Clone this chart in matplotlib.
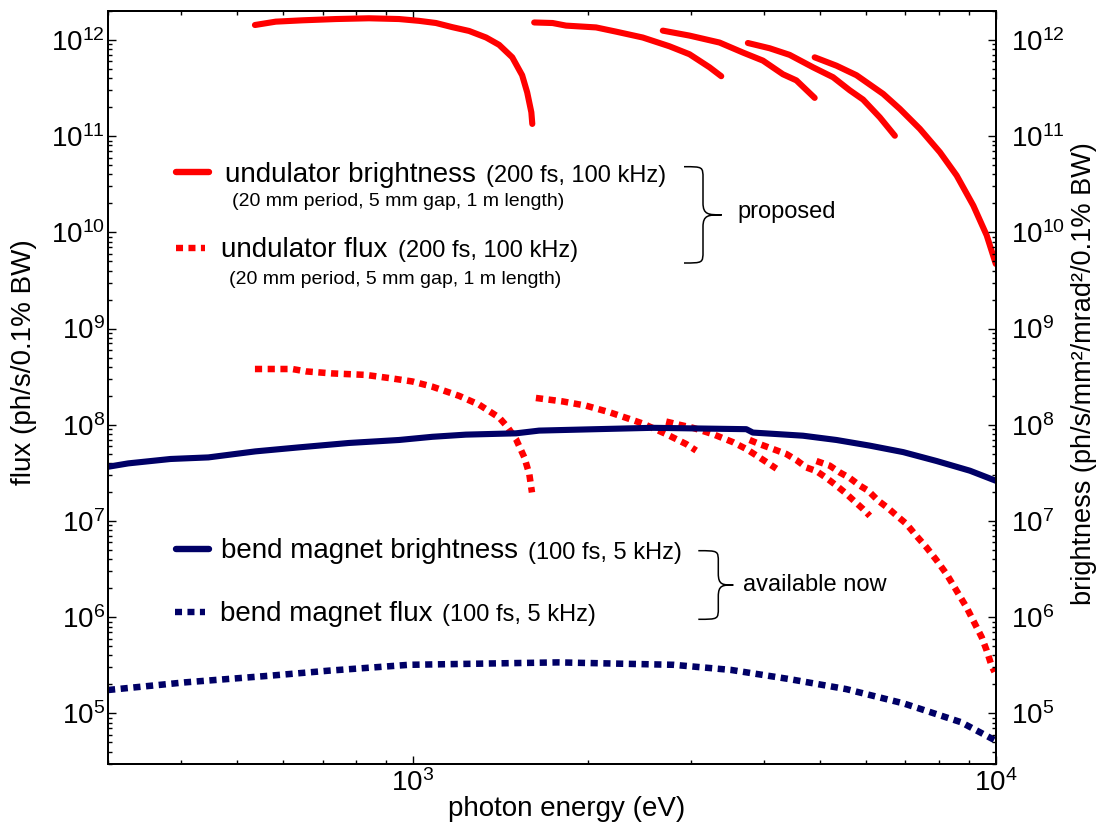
import matplotlib

matplotlib.use("Agg")
import matplotlib.pyplot as plt
from matplotlib.patches import PathPatch
from matplotlib.path import Path
from matplotlib.ticker import FixedLocator, LogLocator, NullFormatter

RED = "#ff0000"
NAVY = "#000066"

# photon energy (eV) / value pairs
# undulator brightness, harmonics 1..5
ub1_x = [536, 582, 646, 738, 841, 947, 1025, 1096, 1168, 1249, 1336, 1406, 1481, 1540, 1571, 1597, 1603]
ub1_y = [1.43e12, 1.55e12, 1.60e12, 1.65e12, 1.68e12, 1.65e12, 1.58e12, 1.50e12, 1.36e12, 1.24e12,
         1.06e12, 8.9e11, 6.6e11, 4.3e11, 2.85e11, 1.77e11, 1.34e11]
ub2_x = [1615, 1737, 1831, 2062, 2232, 2480, 2755, 2983, 3228, 3381]
ub2_y = [1.52e12, 1.50e12, 1.41e12, 1.35e12, 1.22e12, 1.06e12, 8.6e11, 7.1e11, 5.2e11, 4.2e11]
ub3_x = [2684, 2983, 3358, 3683, 3986, 4314, 4549, 4890]
ub3_y = [1.25e12, 1.11e12, 9.4e11, 7.4e11, 6.1e11, 4.4e11, 3.8e11, 2.5e11]
ub4_x = [3756, 4093, 4429, 4858, 5258, 5616, 5920, 6324, 6712]
ub4_y = [9.3e11, 8.2e11, 7.0e11, 5.2e11, 4.1e11, 3.0e11, 2.4e11, 1.57e11, 1.01e11]
ub5_x = [4890, 5330, 5768, 6409, 6846, 7410, 8021, 8567, 9150, 9647, 10000]
ub5_y = [6.6e11, 5.4e11, 4.3e11, 2.75e11, 1.92e11, 1.19e11, 6.8e10, 3.9e10, 1.9e10, 9.3e9, 4.7e9]

# undulator flux, harmonics 1..5
uf1_x = [536, 621, 655, 727, 830, 922, 998, 1080, 1200, 1299, 1406, 1453, 1503, 1553, 1584, 1601]
uf1_y = [3.8e8, 3.8e8, 3.59e8, 3.42e8, 3.30e8, 3.03e8, 2.82e8, 2.49e8, 2.0e8, 1.62e8, 1.19e8,
         9.5e7, 7.1e7, 4.6e7, 3.08e7, 1.98e7]
uf2_x = [1626, 1806, 1982, 2174, 2353, 2480, 2720, 2830, 2944, 3062]
uf2_y = [1.9e8, 1.75e8, 1.58e8, 1.35e8, 1.15e8, 1.03e8, 8.0e7, 7.1e7, 6.3e7, 5.4e7]
uf3_x = [2720, 2867, 3022, 3270, 3540, 3733, 3884, 4041, 4204]
uf3_y = [1.08e8, 1.0e8, 9.3e7, 8.0e7, 6.6e7, 5.6e7, 4.8e7, 4.1e7, 3.5e7]
uf4_x = [3782, 3934, 4147, 4372, 4549, 4732, 4924, 5123, 5330, 5508, 5692, 5920, 6079]
uf4_y = [6.95e7, 6.3e7, 5.6e7, 4.97e7, 4.3e7, 3.6e7, 3.3e7, 2.8e7, 2.33e7, 1.98e7, 1.65e7, 1.33e7, 1.13e7]
uf5_x = [4924, 5189, 5398, 5616, 5845, 6038, 6282, 6535, 6756, 7029, 7265, 7609, 7916, 8235, 8567,
         8913, 9150, 9458, 9647, 9840, 9950]
uf5_y = [4.2e7, 3.76e7, 3.2e7, 2.8e7, 2.33e7, 2.07e7, 1.63e7, 1.36e7, 1.14e7, 9.3e6, 7.3e6, 5.3e6,
         3.9e6, 2.8e6, 1.88e6, 1.26e6, 9.2e5, 6.2e5, 4.5e5, 3.1e5, 2.7e5]

# bend magnet
bmb_x = [300, 325, 384, 446, 537, 637, 777, 947, 1080, 1233, 1503, 1647, 2062, 2579, 3733, 3831,
         4669, 5330, 6079, 6935, 7916, 9030, 10000]
bmb_y = [3.66e7, 3.97e7, 4.41e7, 4.58e7, 5.29e7, 5.82e7, 6.47e7, 6.95e7, 7.5e7, 7.9e7, 8.15e7,
         8.7e7, 9.0e7, 9.3e7, 9.0e7, 8.3e7, 7.7e7, 6.95e7, 6.07e7, 5.2e7, 4.2e7, 3.33e7, 2.62e7]
bmf_x = [300, 406, 571, 717, 985, 1777, 2800, 3515, 4410, 5535, 6948, 8717, 10000]
bmf_y = [1.75e5, 2.1e5, 2.47e5, 2.78e5, 3.2e5, 3.39e5, 3.2e5, 2.83e5, 2.28e5, 1.79e5, 1.27e5,
         8.1e4, 5.2e4]

XLIM = (300, 1e4)
YLIM = (3e4, 2e12)
XTICKS = [1e3, 1e4]

plt.rcParams["font.family"] = ["Liberation Sans", "DejaVu Sans"]

W, H = 1104, 833
L, R, T, B = 108, 995.8, 11, 763.7  # axes box in pixels
fig = plt.figure(figsize=(W / 100, H / 100), dpi=100)
ax = fig.add_axes([L / W, 1 - B / H, (R - L) / W, (B - T) / H])


def at(px, py):
    """pixel position in the reference -> axes fraction"""
    return (px - L) / (R - L), (B - py) / (B - T)


dots = (0, (1.1, 0.85))
solid_kw = dict(color=RED, lw=4.4, solid_capstyle="round", solid_joinstyle="round")
dot_kw = dict(color=RED, lw=4.7, ls=dots, dash_capstyle="butt")
for xs, ys in [(ub1_x, ub1_y), (ub2_x, ub2_y), (ub3_x, ub3_y), (ub4_x, ub4_y), (ub5_x, ub5_y)]:
    ax.plot(xs, ys, **solid_kw)
for xs, ys in [(uf1_x, uf1_y), (uf2_x, uf2_y), (uf3_x, uf3_y), (uf4_x, uf4_y), (uf5_x, uf5_y)]:
    ax.plot(xs, ys, **dot_kw)
ax.plot(bmb_x, bmb_y, color=NAVY, lw=4.4, solid_capstyle="round")
ax.plot(bmf_x, bmf_y, color=NAVY, lw=4.7, ls=dots, dash_capstyle="butt")

ax.set_xscale("log")
ax.set_yscale("log")
ax.set_xlim(*XLIM)
ax.set_ylim(*YLIM)
ax.xaxis.set_major_locator(FixedLocator(XTICKS))
ax.xaxis.set_minor_locator(LogLocator(base=10, subs=range(2, 10), numticks=20))
ax.xaxis.set_minor_formatter(NullFormatter())
ax2 = ax.twinx()
ax2.set_yscale("log")
ax2.set_ylim(*YLIM)

for a in (ax, ax2):
    a.yaxis.set_major_locator(LogLocator(base=10, numticks=20))
    a.yaxis.set_minor_locator(LogLocator(base=10, subs=range(2, 10), numticks=20))
    a.yaxis.set_minor_formatter(NullFormatter())
    for s in a.spines.values():
        s.set_linewidth(1.4)

ax.tick_params(which="both", direction="in", top=True, right=False, width=1)
ax.tick_params(which="major", length=5.5, labelsize=20)
ax.tick_params(which="minor", length=3)
ax.tick_params(axis="y", pad=2)
ax.tick_params(axis="x", pad=4)
ax2.tick_params(which="both", direction="in", width=1)
ax2.tick_params(which="major", length=5.5, labelsize=20, pad=11)
ax2.tick_params(which="minor", length=3)

# axis titles
ax.text(*at(24, 362), "flux (ph/s/0.1% BW)", transform=ax.transAxes, rotation=90,
        ha="center", va="center", fontsize=20)
ax.text(*at(1084, 374), "brightness (ph/s/mm²/mrad²/0.1% BW)", transform=ax.transAxes,
        rotation=90, ha="center", va="center", fontsize=19.5)
ax.text(*at(567, 808.5), "photon energy (eV)", transform=ax.transAxes,
        ha="center", va="center", fontsize=20)

# hand-made legend
keys = [
    (176, 209, 171.7, "-", RED),
    (175.7, 205, 248.3, dots, RED),
    (176, 209, 549, "-", NAVY),
    (175, 205, 612, dots, NAVY),
]
for x0, x1, y, ls, c in keys:
    (ax0, ay), (ax1, _) = at(x0, y), at(x1, y)
    ax.plot([ax0, ax1], [ay, ay], transform=ax.transAxes, color=c, lw=4.6, ls=ls,
            solid_capstyle="round", dash_capstyle="butt", clip_on=False)

labels = [
    (225, 181.7, "undulator brightness", 20),
    (486, 181.7, "(200 fs, 100 kHz)", 17),
    (232, 206, "(20 mm period, 5 mm gap, 1 m length)", 14),
    (221, 256.7, "undulator flux", 20),
    (397.5, 256.7, "(200 fs, 100 kHz)", 17),
    (229, 283.5, "(20 mm period, 5 mm gap, 1 m length)", 14),
    (221, 558.5, "bend magnet brightness", 20),
    (528.5, 558.5, "(100 fs, 5 kHz)", 17),
    (220, 621, "bend magnet flux", 20),
    (442, 621, "(100 fs, 5 kHz)", 17),
    (737, 218.3, "proposed", 17),
    (743, 590.7, "available now", 17),
]
for px, py, s, fs in labels:
    ax.text(*at(px, py), s, transform=ax.transAxes, ha="left", va="baseline", fontsize=fs)


def brace(x_end, x_mid, x_tip, y_top, y_bot):
    y_c = (y_top + y_bot) / 2
    r = min(12, (y_bot - y_top) / 6)
    pts = [
        (x_end, y_top), (x_mid, y_top), (x_mid, y_top), (x_mid, y_top + r),
        (x_mid, y_c - r),
        (x_mid, y_c), (x_mid + 0.3 * (x_tip - x_mid), y_c), (x_tip, y_c),
        (x_mid + 0.3 * (x_tip - x_mid), y_c), (x_mid, y_c), (x_mid, y_c + r),
        (x_mid, y_bot - r),
        (x_mid, y_bot), (x_mid, y_bot), (x_end, y_bot),
    ]
    codes = [Path.MOVETO, Path.CURVE4, Path.CURVE4, Path.CURVE4, Path.LINETO,
             Path.CURVE4, Path.CURVE4, Path.CURVE4, Path.CURVE4, Path.CURVE4, Path.CURVE4,
             Path.LINETO, Path.CURVE4, Path.CURVE4, Path.CURVE4]
    path = Path([at(px, py) for px, py in pts], codes)
    ax.add_patch(PathPatch(path, transform=ax.transAxes, fill=False, lw=1.1, ec="black",
                           clip_on=False))


brace(684, 703, 721.7, 166.7, 263)
brace(698.3, 718.3, 733.3, 550.7, 619.3)

fig.savefig("out.png", dpi=100)
